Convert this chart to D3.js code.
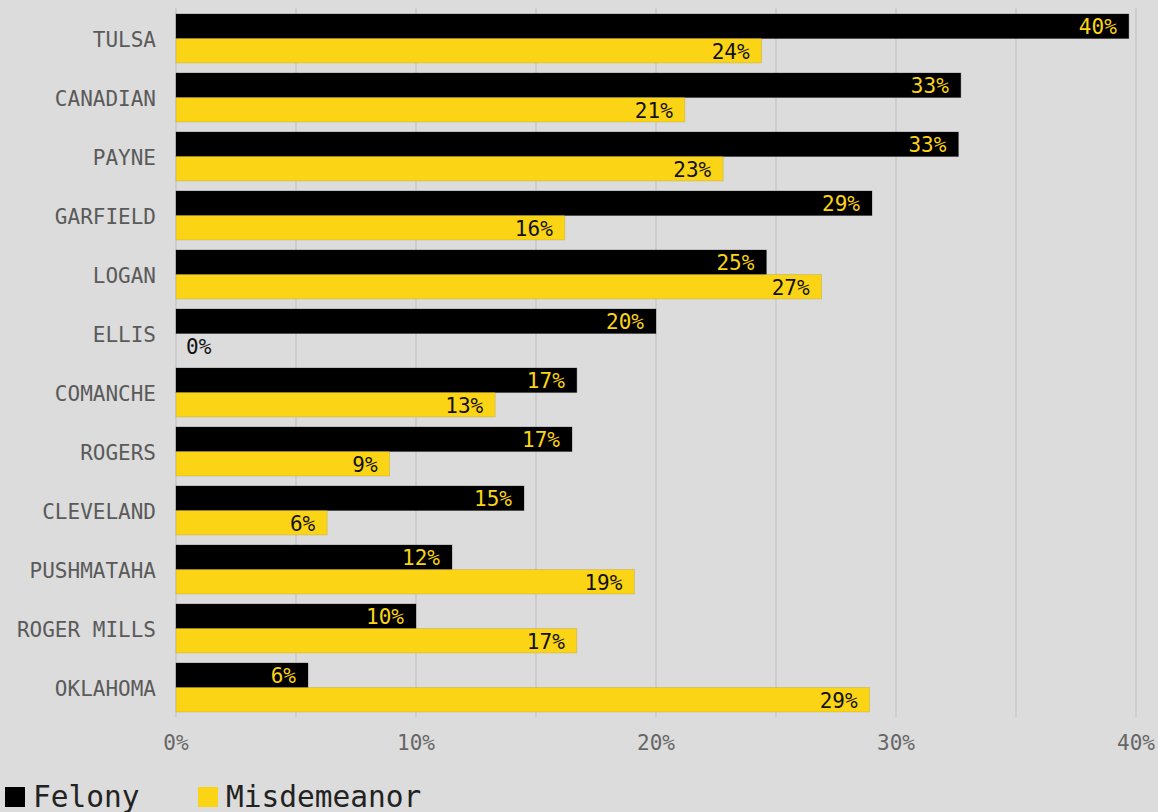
<!DOCTYPE html>
<html>
<head>
<meta charset="utf-8">
<script src="https://cdn.jsdelivr.net/npm/d3@7"></script>
<style>
  body { margin: 0; background: #dcdcdc; }
  svg { display: block; font-family: "DejaVu Sans Mono", monospace; }
  .grid line { stroke: #bdbdbd; stroke-width: 1; }
  .cat-label { fill: #5a5a5a; font-size: 21px; }
  .tick-label { fill: #666; font-size: 21px; }
  .legend-text { fill: #222; font-size: 29.5px; }
</style>
</head>
<body>
<div id="chart"></div>
<script>
var counties = ["TULSA", "CANADIAN", "PAYNE", "GARFIELD", "LOGAN", "ELLIS",
  "COMANCHE", "ROGERS", "CLEVELAND", "PUSHMATAHA", "ROGER MILLS", "OKLAHOMA"];
var felony = [39.7, 32.7, 32.6, 29.0, 24.6, 20.0, 16.7, 16.5, 14.5, 11.5, 10.0, 5.5];
var misdemeanor = [24.4, 21.2, 22.8, 16.2, 26.9, 0, 13.3, 8.9, 6.3, 19.1, 16.7, 28.9];
var xTicks = [0, 10, 20, 30, 40];
var gridTicks = [0, 5, 10, 15, 20, 25, 30, 35, 40];
var seriesNames = ["Felony", "Misdemeanor"];
var colors = ["#000000", "#fbd415"];
var labelColors = ["#fbd415", "#111111"];

var width = 1158, height = 812;
var margins = { top: 9, right: 22, bottom: 95, left: 176 };

var rows = counties.map((c, i) => ({ county: c, values: [felony[i], misdemeanor[i]] }));

var svg = d3.select("#chart")
  .append("svg")
  .attr("width", width)
  .attr("height", height);

var x = d3.scaleLinear()
  .domain([0, 40])
  .range([margins.left, width - margins.right]);

var y = d3.scaleBand()
  .domain(counties)
  .range([margins.top, height - margins.bottom])
  .paddingInner(0.17)
  .paddingOuter(0.085);

var ySub = d3.scaleBand()
  .domain([0, 1])
  .range([0, y.bandwidth()]);

// grid lines
svg.append("g")
  .attr("class", "grid")
  .selectAll("line")
  .data(gridTicks)
  .enter()
  .append("line")
  .attr("x1", (d) => x(d))
  .attr("x2", (d) => x(d))
  .attr("y1", margins.top - 1)
  .attr("y2", height - margins.bottom);

// x tick labels
svg.append("g")
  .selectAll("text")
  .data(xTicks)
  .enter()
  .append("text")
  .attr("class", "tick-label")
  .attr("x", (d) => x(d))
  .attr("y", height - margins.bottom + 27)
  .attr("text-anchor", "middle")
  .attr("dominant-baseline", "middle")
  .text((d) => d + "%");

// county labels
svg.append("g")
  .selectAll("text")
  .data(counties)
  .enter()
  .append("text")
  .attr("class", "cat-label")
  .attr("x", margins.left - 20)
  .attr("y", (d) => y(d) + y.bandwidth() / 2 + 2)
  .attr("text-anchor", "end")
  .attr("dominant-baseline", "middle")
  .text((d) => d);

var groups = svg.append("g")
  .selectAll("g")
  .data(rows)
  .enter()
  .append("g")
  .attr("transform", (d) => "translate(0," + y(d.county) + ")");

// bars
groups.selectAll("rect")
  .data((d) => d.values.map((v, i) => ({ v: v, i: i })))
  .enter()
  .append("rect")
  .attr("x", x(0))
  .attr("y", (d) => ySub(d.i))
  .attr("width", (d) => x(d.v) - x(0))
  .attr("height", ySub.bandwidth())
  .attr("fill", (d) => colors[d.i])
  .attr("stroke", (d) => (d.i === 0 ? "rgba(0,0,0,0.35)" : "rgba(0,0,0,0.12)"))
  .attr("stroke-width", 0.8);

// value labels
groups.selectAll("text")
  .data((d) => d.values.map((v, i) => ({ v: v, i: i })))
  .enter()
  .append("text")
  .attr("x", (d) => (d.v === 0 ? x(0) + 10 : x(d.v) - 12))
  .attr("y", (d) => ySub(d.i) + ySub.bandwidth() / 2 + 2)
  .attr("text-anchor", (d) => (d.v === 0 ? "start" : "end"))
  .attr("dominant-baseline", "middle")
  .attr("font-size", "21px")
  .attr("fill", (d) => (d.v === 0 ? "#111" : labelColors[d.i]))
  .text((d) => Math.round(d.v) + "%");

// legend
var legend = svg.append("g")
  .selectAll("g")
  .data(seriesNames)
  .enter()
  .append("g")
  .attr("transform", (d, i) => "translate(" + (5 + i * 193) + "," + 787 + ")");

legend.append("rect")
  .attr("width", 20)
  .attr("height", 20)
  .attr("fill", (d, i) => colors[i]);

legend.append("text")
  .attr("class", "legend-text")
  .attr("x", 28)
  .attr("y", 11)
  .attr("dominant-baseline", "middle")
  .text((d) => d);
</script>
</body>
</html>
